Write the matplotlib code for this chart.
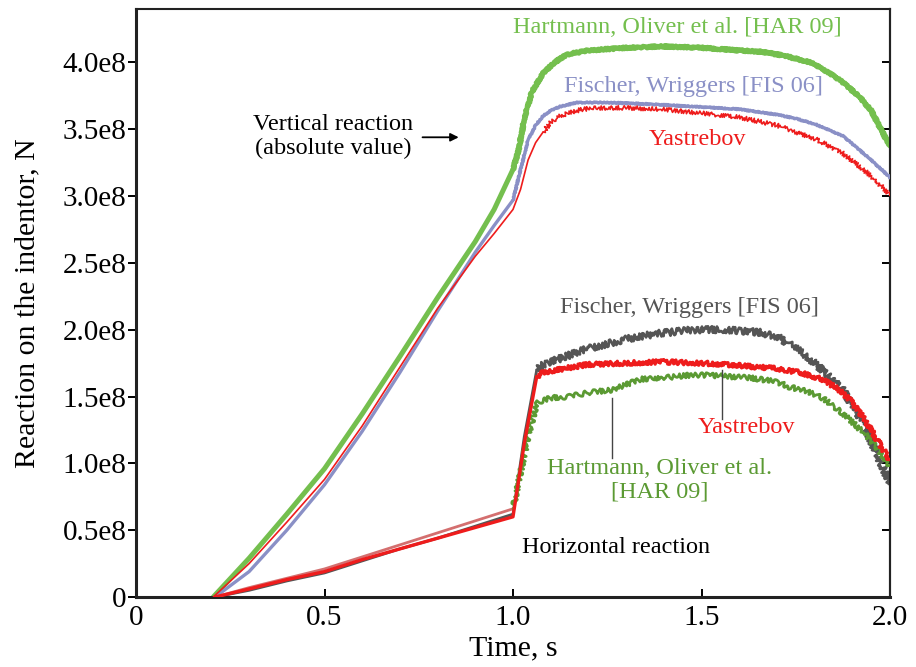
import matplotlib
matplotlib.use("Agg")
import matplotlib.pyplot as plt

plt.rcParams['font.family'] = ['Liberation Serif', 'DejaVu Serif']

# ---- vertical reaction (absolute value), units of 1e8 N ----
t_har_v = [0.205, 0.30, 0.40, 0.50, 0.60, 0.70, 0.80, 0.90, 0.95, 1.0, 1.015, 1.03, 1.05,
           1.08, 1.11, 1.143, 1.20, 1.30, 1.40, 1.50, 1.60, 1.66, 1.72, 1.79, 1.84, 1.875,
           1.92, 1.95, 2.0]
f_har_v = [0.0, 0.29, 0.62, 0.96, 1.37, 1.80, 2.24, 2.66, 2.90, 3.20, 3.35, 3.58, 3.78,
           3.92, 4.00, 4.06, 4.09, 4.11, 4.12, 4.11, 4.09, 4.08, 4.05, 4.00, 3.92, 3.85,
           3.74, 3.64, 3.37]

t_fis_v = [0.21, 0.30, 0.40, 0.50, 0.60, 0.70, 0.80, 0.90, 0.95, 1.0, 1.02, 1.04, 1.06,
           1.08, 1.10, 1.125, 1.17, 1.25, 1.35, 1.48, 1.60, 1.70, 1.75, 1.80, 1.875, 1.95, 2.0]
f_fis_v = [0.0, 0.19, 0.50, 0.84, 1.24, 1.68, 2.14, 2.58, 2.78, 2.97, 3.20, 3.42, 3.53,
           3.60, 3.64, 3.67, 3.70, 3.70, 3.69, 3.67, 3.65, 3.61, 3.58, 3.54, 3.45, 3.27, 3.14]

t_yas_v = [0.205, 0.30, 0.40, 0.50, 0.60, 0.70, 0.80, 0.90, 0.95, 1.0, 1.02, 1.04, 1.06,
           1.08, 1.10, 1.125, 1.17, 1.21, 1.30, 1.40, 1.50, 1.60, 1.70, 1.75, 1.80, 1.875,
           1.95, 2.0]
f_yas_v = [0.0, 0.25, 0.56, 0.88, 1.28, 1.72, 2.16, 2.55, 2.72, 2.90, 3.05, 3.27, 3.40,
           3.48, 3.55, 3.60, 3.64, 3.66, 3.66, 3.65, 3.62, 3.59, 3.53, 3.48, 3.43, 3.32,
           3.15, 3.01]

# ---- horizontal reaction, units of 1e8 N ----
t_fis_h = [0.21, 0.30, 0.40, 0.50, 0.60, 0.70, 0.80, 0.90, 1.0, 1.03, 1.063, 1.08, 1.12,
           1.20, 1.30, 1.38, 1.48, 1.57, 1.655, 1.70, 1.74, 1.78, 1.82, 1.875, 1.93, 1.965, 2.0]
f_fis_h = [0.0, 0.05, 0.12, 0.18, 0.27, 0.36, 0.44, 0.53, 0.62, 1.20, 1.70, 1.74, 1.78,
           1.86, 1.93, 1.97, 2.00, 2.00, 1.98, 1.95, 1.88, 1.80, 1.70, 1.55, 1.30, 1.07, 0.85]

t_har_h = [0.21, 0.30, 0.40, 0.50, 0.60, 0.70, 0.80, 0.90, 1.0, 1.04, 1.063, 1.10, 1.15,
           1.20, 1.265, 1.30, 1.34, 1.40, 1.47, 1.52, 1.57, 1.63, 1.70, 1.735, 1.78, 1.82,
           1.85, 1.885, 1.94, 1.97, 2.0]
f_har_h = [0.0, 0.07, 0.14, 0.21, 0.30, 0.39, 0.48, 0.57, 0.66, 1.20, 1.45, 1.49, 1.50,
           1.53, 1.55, 1.59, 1.63, 1.64, 1.66, 1.66, 1.65, 1.64, 1.61, 1.57, 1.54, 1.49,
           1.43, 1.35, 1.20, 1.10, 0.98]

t_yas_h = [0.21, 0.30, 0.40, 0.50, 0.60, 0.70, 0.80, 0.90, 1.0, 1.03, 1.063, 1.08, 1.116,
           1.20, 1.30, 1.40, 1.50, 1.57, 1.65, 1.70, 1.76, 1.82, 1.86, 1.895, 1.93, 1.965, 2.0]
f_yas_h = [0.0, 0.06, 0.13, 0.19, 0.28, 0.36, 0.44, 0.52, 0.60, 1.15, 1.65, 1.68, 1.70,
           1.74, 1.75, 1.76, 1.75, 1.74, 1.72, 1.71, 1.68, 1.63, 1.56, 1.47, 1.34, 1.18, 1.02]

x_ticks = [0, 0.5, 1.0, 1.5, 2.0]
x_tick_labels = ['0', '0.5', '1.0', '1.5', '2.0']
y_ticks = [0, 0.5, 1.0, 1.5, 2.0, 2.5, 3.0, 3.5, 4.0]
y_tick_labels = ['0', '0.5e8', '1.0e8', '1.5e8', '2.0e8', '2.5e8', '3.0e8', '3.5e8', '4.0e8']

C_HAR_V = '#74bf4e'
C_FIS_V = '#8a90c6'
C_YAS = '#ee1c1c'
C_FIS_H = '#555555'
C_HAR_H = '#5b9a33'
C_HAR_H_EARLY = '#d46f6f'

fig = plt.figure(figsize=(9.16, 6.67), dpi=100)
ax = fig.add_axes([136 / 916, 70 / 667, 754 / 916, 588 / 667])


def draw(t, f, split, color, lw, sketch=None, z=2, early_color=None):
    """Smooth rising branch up to index `split`, textured (noisy) branch after it."""
    l1, = ax.plot(t[:split + 1], f[:split + 1], color=early_color or color, lw=lw,
                  zorder=z, solid_capstyle='round', solid_joinstyle='round')
    l2, = ax.plot(t[split:], f[split:], color=color, lw=lw, zorder=z,
                  solid_capstyle='round', solid_joinstyle='round')
    if sketch:
        l2.set_sketch_params(*sketch)
    return l1, l2


# vertical reaction
draw(t_har_v, f_har_v, 9, C_HAR_V, 3.6, sketch=(1.0, 3, 2), z=2)
draw(t_fis_v, f_fis_v, 9, C_FIS_V, 2.4, sketch=(0.6, 3, 2), z=3)
draw(t_yas_v, f_yas_v, 13, C_YAS, 1.2, sketch=(2.2, 2.5, 2), z=4)

# horizontal reaction
draw(t_fis_h, f_fis_h, 10, C_FIS_H, 2.0, sketch=(3.4, 3.5, 3), z=2)
draw(t_har_h, f_har_h, 8, C_HAR_H, 2.0, sketch=(2.4, 7, 4), z=3, early_color=C_HAR_H_EARLY)
draw(t_yas_h, f_yas_h, 10, C_YAS, 2.4, sketch=(2.2, 3, 3), z=4)

# labels for the curves
FS = 17.5
ax.text(1.437, 4.26, 'Hartmann, Oliver et al. [HAR 09]', color=C_HAR_V, fontsize=FS,
        ha='center', va='center')
ax.text(1.479, 3.82, 'Fischer, Wriggers [FIS 06]', color=C_FIS_V, fontsize=FS,
        ha='center', va='center')
ax.text(1.489, 3.42, 'Yastrebov', color=C_YAS, fontsize=FS, ha='center', va='center')
ax.text(0.523, 3.445, 'Vertical reaction\n(absolute value)', color='black', fontsize=FS,
        ha='center', va='center', linespacing=1.15)
ax.annotate('', xy=(0.856, 3.44), xytext=(0.76, 3.44),
            arrowprops=dict(arrowstyle='-|>', color='black', lw=1.3,
                            mutation_scale=12, shrinkA=0, shrinkB=0))

ax.text(1.469, 2.17, 'Fischer, Wriggers [FIS 06]', color=C_FIS_H, fontsize=FS,
        ha='center', va='center')
ax.text(1.618, 1.27, 'Yastrebov', color=C_YAS, fontsize=FS, ha='center', va='center')
ax.text(1.39, 0.875, 'Hartmann, Oliver et al.\n[HAR 09]', color=C_HAR_H, fontsize=FS,
        ha='center', va='center', linespacing=1.15)
ax.text(1.273, 0.37, 'Horizontal reaction', color='black', fontsize=FS,
        ha='center', va='center')

# leader lines from the labels to the curves
ax.plot([1.263, 1.263], [1.04, 1.49], color='#444444', lw=1.0, zorder=5)
ax.plot([1.554, 1.554], [1.33, 1.70], color='#444444', lw=1.0, zorder=5)

# axes
ax.set_xlim(0, 2.0)
ax.set_ylim(0, 4.4)
ax.set_xticks(x_ticks)
ax.set_xticklabels(x_tick_labels)
ax.set_yticks(y_ticks)
ax.set_yticklabels(y_tick_labels)
ax.tick_params(axis='x', direction='in', length=6, width=1.4, pad=6, labelsize=21)
ax.tick_params(axis='y', direction='out', length=6, width=1.4, pad=1, labelsize=21)

right = ax.secondary_yaxis('right')
right.set_yticks(y_ticks)
right.tick_params(direction='in', length=6, width=1.4, labelright=False)
right.spines['right'].set_linewidth(1.5)
right.spines['right'].set_color('#222222')

for side, w in (('left', 2.2), ('bottom', 2.2), ('top', 1.5), ('right', 1.5)):
    ax.spines[side].set_linewidth(w)
    ax.spines[side].set_color('#222222')

ax.set_xlabel('Time, s', fontsize=21.5, labelpad=3)
ax.set_ylabel('Reaction on the indentor, N', fontsize=21.5, labelpad=16)

fig.savefig('out.png', dpi=100)
